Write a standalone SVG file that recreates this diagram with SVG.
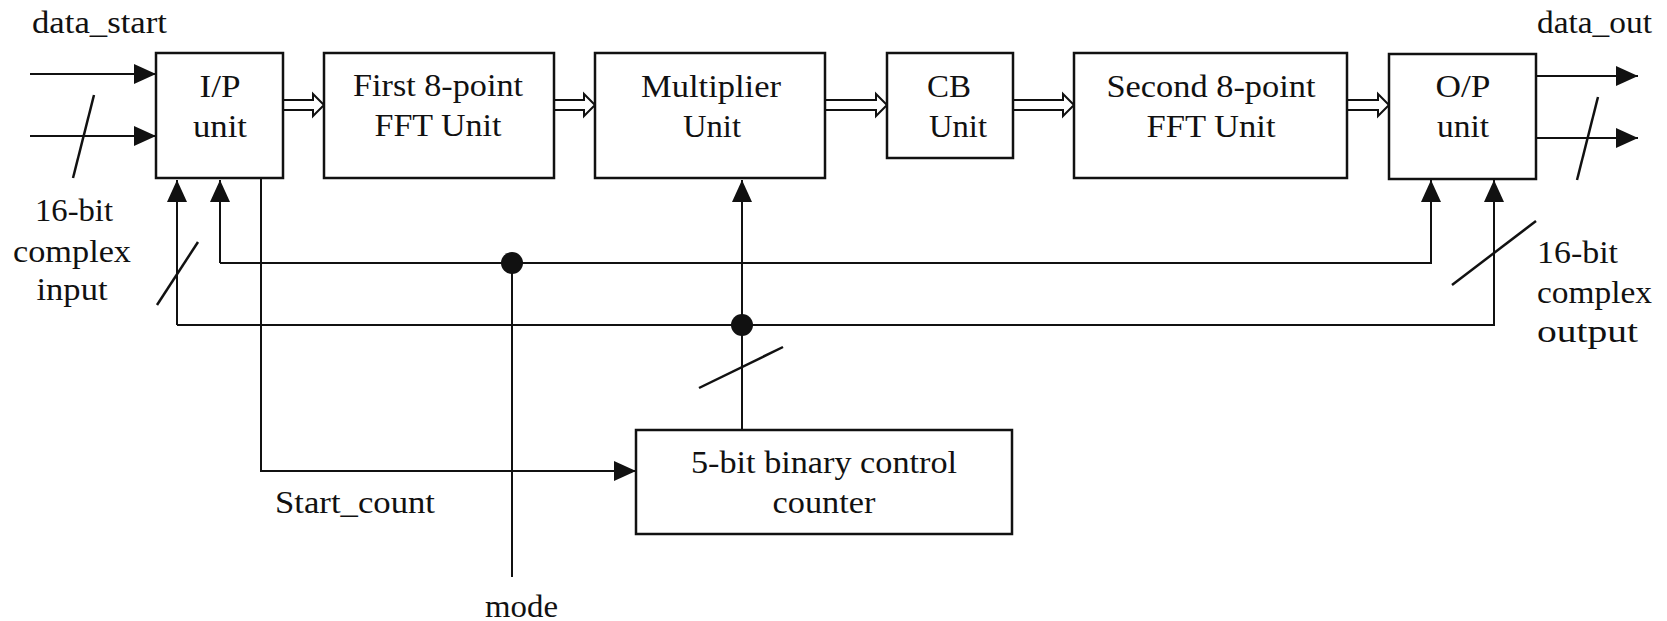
<svg xmlns="http://www.w3.org/2000/svg" width="1667" height="621" viewBox="0 0 1667 621">
<style>
.box{fill:#fff;stroke:#111;stroke-width:2.5}
.ln{fill:none;stroke:#111;stroke-width:2}
.hol{fill:#fff;stroke:#111;stroke-width:2;stroke-linejoin:miter}
.sl{stroke:#111;stroke-width:2.5;fill:none}
text{font-family:"Liberation Serif","Times New Roman",serif;font-size:32px;fill:#111}
.c{text-anchor:middle}
</style>
<defs>
<marker id="ah" markerUnits="userSpaceOnUse" markerWidth="22" markerHeight="20" refX="22" refY="10" orient="auto" viewBox="0 0 22 20">
<path d="M0,0 L22,10 L0,20 z" fill="#111"/>
</marker>
</defs>
<g id="connectors">
<line class="ln" x1="30" y1="74" x2="156" y2="74" marker-end="url(#ah)"/>
<line class="ln" x1="30" y1="136" x2="156" y2="136" marker-end="url(#ah)"/>
<line class="sl" x1="94" y1="95" x2="73" y2="178"/>
<line class="ln" x1="1536" y1="76" x2="1638" y2="76" marker-end="url(#ah)"/>
<line class="ln" x1="1536" y1="138" x2="1638" y2="138" marker-end="url(#ah)"/>
<line class="sl" x1="1598" y1="97" x2="1577" y2="180"/>
<polygon class="hol" points="283,100 313,100 313,94 324,105 313,116 313,110 283,110"/>
<polygon class="hol" points="554,100 584,100 584,94 595,105 584,116 584,110 554,110"/>
<polygon class="hol" points="825,100 876,100 876,94 887,105 876,116 876,110 825,110"/>
<polygon class="hol" points="1013,100 1063,100 1063,94 1074,105 1063,116 1063,110 1013,110"/>
<polygon class="hol" points="1347,100 1378,100 1378,94 1389,105 1378,116 1378,110 1347,110"/>
<path class="ln" d="M220,263 H1431 V180" marker-end="url(#ah)"/>
<path class="ln" d="M220,263 V180" marker-end="url(#ah)"/>
<path class="ln" d="M177,325 H1494 V180" marker-end="url(#ah)"/>
<path class="ln" d="M177,325 V180" marker-end="url(#ah)"/>
<path class="ln" d="M742,430 V180" marker-end="url(#ah)"/>
<path class="ln" d="M512,263 V577"/>
<path class="ln" d="M261,178 V471 H636" marker-end="url(#ah)"/>
<circle cx="512" cy="263" r="11" fill="#111"/>
<circle cx="742" cy="325" r="11" fill="#111"/>
<line class="sl" x1="198" y1="242" x2="157" y2="305"/>
<line class="sl" x1="1536" y1="221" x2="1452" y2="285"/>
<line class="sl" x1="783" y1="347" x2="699" y2="388"/>
</g>
<g id="ip">
<rect class="box" x="156" y="53" width="127" height="125"/>
<text x="220" y="97" class="c" textLength="41" lengthAdjust="spacingAndGlyphs">I/P</text>
<text x="220" y="137" class="c" textLength="54" lengthAdjust="spacingAndGlyphs">unit</text>
</g>
<g id="fft1">
<rect class="box" x="324" y="53" width="230" height="125"/>
<text x="438" y="96" class="c" textLength="170" lengthAdjust="spacingAndGlyphs">First 8-point</text>
<text x="438" y="136" class="c" textLength="127" lengthAdjust="spacingAndGlyphs">FFT Unit</text>
</g>
<g id="mult">
<rect class="box" x="595" y="53" width="230" height="125"/>
<text x="711" y="97" class="c" textLength="140" lengthAdjust="spacingAndGlyphs">Multiplier</text>
<text x="712" y="137" class="c" textLength="58" lengthAdjust="spacingAndGlyphs">Unit</text>
</g>
<g id="cb">
<rect class="box" x="887" y="53" width="126" height="105"/>
<text x="949" y="97" class="c" textLength="44" lengthAdjust="spacingAndGlyphs">CB</text>
<text x="958" y="137" class="c" textLength="58" lengthAdjust="spacingAndGlyphs">Unit</text>
</g>
<g id="fft2">
<rect class="box" x="1074" y="53" width="273" height="125"/>
<text x="1211" y="97" class="c" textLength="209" lengthAdjust="spacingAndGlyphs">Second 8-point</text>
<text x="1211" y="137" class="c" textLength="129" lengthAdjust="spacingAndGlyphs">FFT Unit</text>
</g>
<g id="op">
<rect class="box" x="1389" y="54" width="147" height="125"/>
<text x="1463" y="97" class="c" textLength="55" lengthAdjust="spacingAndGlyphs">O/P</text>
<text x="1463" y="137" class="c" textLength="52" lengthAdjust="spacingAndGlyphs">unit</text>
</g>
<g id="counter">
<rect class="box" x="636" y="430" width="376" height="104"/>
<text x="824" y="473" class="c" textLength="266" lengthAdjust="spacingAndGlyphs">5-bit binary control</text>
<text x="824" y="513" class="c" textLength="103" lengthAdjust="spacingAndGlyphs">counter</text>
</g>
<g id="labels">
<text x="32" y="33" textLength="135" lengthAdjust="spacingAndGlyphs">data_start</text>
<text x="1537" y="33" textLength="115" lengthAdjust="spacingAndGlyphs">data_out</text>
<text x="74" y="221" class="c" textLength="78" lengthAdjust="spacingAndGlyphs">16-bit</text>
<text x="72" y="262" class="c" textLength="118" lengthAdjust="spacingAndGlyphs">complex</text>
<text x="72" y="300" class="c" textLength="71" lengthAdjust="spacingAndGlyphs">input</text>
<text x="1537" y="263" textLength="81" lengthAdjust="spacingAndGlyphs">16-bit</text>
<text x="1537" y="303" textLength="115" lengthAdjust="spacingAndGlyphs">complex</text>
<text x="1537" y="342" textLength="101" lengthAdjust="spacingAndGlyphs">output</text>
<text x="275" y="513" textLength="160" lengthAdjust="spacingAndGlyphs">Start_count</text>
<text x="485" y="617" textLength="73" lengthAdjust="spacingAndGlyphs">mode</text>
</g>
</svg>
